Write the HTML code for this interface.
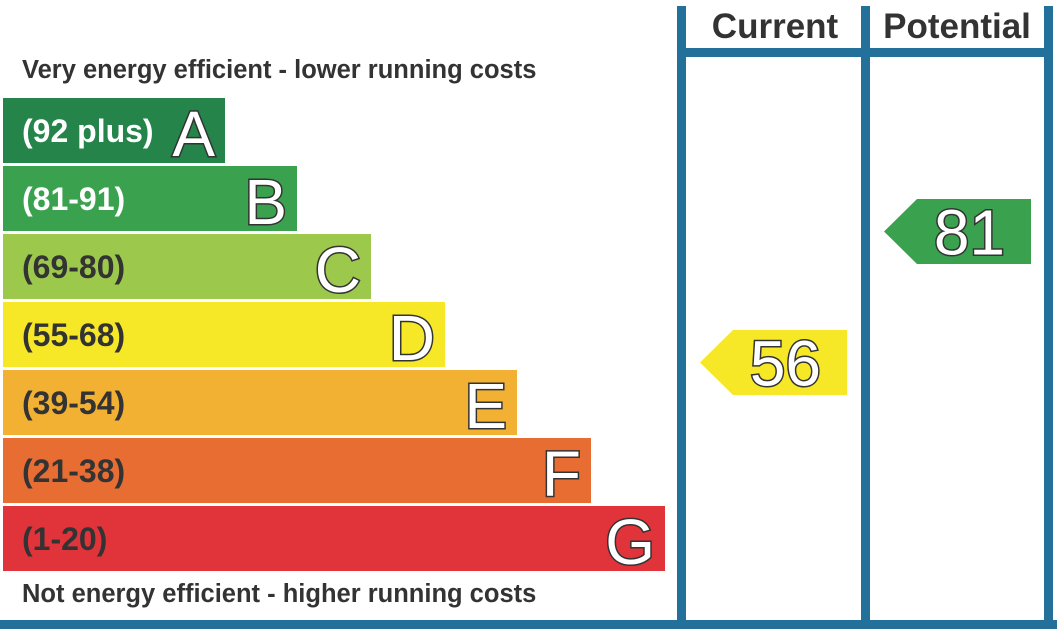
<!DOCTYPE html>
<html><head><meta charset="utf-8"><style>
html,body{margin:0;padding:0;background:#fff;}
svg{display:block;font-family:"Liberation Sans",Arial,sans-serif;}
</style></head><body>
<svg id="chart" width="1057" height="641" viewBox="0 0 1057 641" xmlns="http://www.w3.org/2000/svg">
<rect x="0" y="0" width="1057" height="641" fill="#fff"/>
<g fill="#23719a">
<rect x="677" y="6" width="9" height="622"/>
<rect x="861" y="6" width="9" height="622"/>
<rect x="1044" y="6" width="9" height="622"/>
<rect x="677" y="48" width="376" height="9"/>
<rect x="0" y="620" width="1057" height="9"/>
</g>
<text x="775" y="38" text-anchor="middle" font-size="35" font-weight="bold" fill="#333">Current</text>
<text x="957" y="38" text-anchor="middle" font-size="35" font-weight="bold" fill="#333">Potential</text>
<text x="22" y="78" font-size="25.5" font-weight="bold" fill="#333">Very energy efficient - lower running costs</text>
<text x="22" y="602" font-size="25.5" font-weight="bold" fill="#333">Not energy efficient - higher running costs</text>
<g id="bands"></g>
<g id="ratings"></g>
</svg>
<script>
const bandLetters = ["A","B","C","D","E","F","G"];
const bandRanges = ["(92 plus)","(81-91)","(69-80)","(55-68)","(39-54)","(21-38)","(1-20)"];
const bandMins = [92,81,69,55,39,21,1];
const bandColors = ["#24844a","#3aa24f","#9cc94b","#f7e827","#f3b134","#e86d33","#e1333a"];
const bandWidths = [222,294,368,442,514,588,662];
const currentRating = 56;
const potentialRating = 81;

const NS="http://www.w3.org/2000/svg";
const bandTop=98, bandStep=68, bandH=65;
function bandY(i){return bandTop+i*bandStep;}
function bandIndex(v){for(let i=0;i<bandMins.length;i++){if(v>=bandMins[i])return i;}return bandMins.length-1;}
function ratingY(v){return 199+(81-v)*5.24;}
function mk(tag,attrs,parent){const e=document.createElementNS(NS,tag);for(const k in attrs)e.setAttribute(k,attrs[k]);parent.appendChild(e);return e;}

const bands=document.getElementById('bands');
bandLetters.forEach((L,i)=>{
  const y=bandY(i), w=bandWidths[i];
  const r=mk('rect',{x:3,y:y,width:w,height:bandH,fill:bandColors[i]},bands);
  
  
  const t=mk('text',{x:22,y:y+44,'font-size':32,'font-weight':'bold',fill:(i<2)?'#fff':'#333'},bands);
  t.textContent=bandRanges[i];
  
  
  const lt=mk('text',{x:3+w-10,y:y+58,'text-anchor':'end','font-size':64,fill:'#fff',stroke:'#333','stroke-width':3,'paint-order':'stroke'},bands);
  lt.textContent=L;
  
  
});

const ratings=document.getElementById('ratings');
function arrow(v,x0,x1,name){
  const i=bandIndex(v);
  const top=ratingY(v), h=bandH;
  const p=mk('polygon',{points:`${x0},${top+h/2} ${x0+33},${top} ${x1},${top} ${x1},${top+h} ${x0+33},${top+h}`,fill:bandColors[i]},ratings);
  
  
  const t=mk('text',{x:x1-26,y:top+h/2+23,'text-anchor':'end','font-size':64,fill:'#fff',stroke:'#333','stroke-width':3,'paint-order':'stroke'},ratings);
  t.textContent=v;
  
  
}
arrow(currentRating,700,847,'current');
arrow(potentialRating,884,1031,'potential');
</script>
</body></html>
